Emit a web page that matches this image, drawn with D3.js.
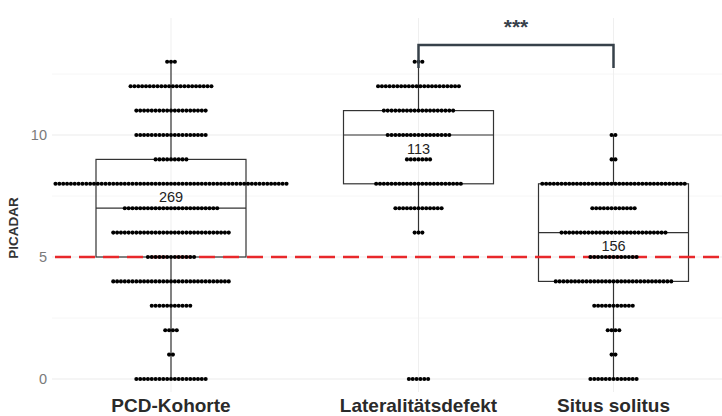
<!DOCTYPE html>
<html><head><meta charset="utf-8">
<script src="https://cdn.jsdelivr.net/npm/d3@7"></script>
<style>body{margin:0;background:#fff}svg{display:block}</style>
</head><body>
<svg id="c" width="722" height="416"></svg>
<script>
const categories = ["PCD-Kohorte", "Lateralitätsdefekt", "Situs solitus"];
const scoreValues = [0,1,2,3,4,5,6,7,8,9,10,11,12,13];
// number of patients per PICADAR score, per group
const countsPCD   = [19,2,4,11,31,13,31,25,61,9,19,19,22,3];
const countsLat   = [6,0,0,0,0,0,3,13,23,7,17,19,22,3];
const countsSitus = [13,2,4,11,31,13,28,12,38,2,2,0,0,0];
const groupN = [269, 113, 156];
const countLabelY = [7.45, 9.45, 5.45];
const yTicks = [0, 5, 10];
const cutoff = 5;
const signifLabel = "***";

const FONT = "Liberation Sans, Arial, sans-serif";
const svg = d3.select("#c");
const y = d3.scaleLinear().domain([0, 10]).range([379, 135]);
const xLeft = d3.scaleBand().domain([categories[0]]).range([42, 300]);
const xRight = d3.scaleBand().domain(categories.slice(1)).range([321, 711]);
const cx = c => c === categories[0] ? xLeft(c) + xLeft.bandwidth()/2 : xRight(c) + xRight.bandwidth()/2;

const allCounts = [countsPCD, countsLat, countsSitus];

// gridlines
const g = svg.append("g");
const gridVals = d3.range(0, 13.5, 2.5);
g.selectAll("line.h").data(gridVals).join("line")
  .attr("x1", 52).attr("x2", 722)
  .attr("y1", d => y(d)).attr("y2", d => y(d))
  .attr("stroke", d => d % 5 === 0 ? "#ebebeb" : "#f4f4f4").attr("stroke-width", d => d % 5 === 0 ? 1 : 0.8);
g.selectAll("line.v").data(categories).join("line")
  .attr("x1", d => cx(d)).attr("x2", d => cx(d))
  .attr("y1", 18).attr("y2", 392)
  .attr("stroke", "#efefef").attr("stroke-width", 1);

// y axis
svg.append("g").selectAll("text").data(yTicks).join("text")
  .attr("x", 47).attr("y", d => y(d)).attr("dy", "0.36em")
  .attr("text-anchor", "end").attr("font-family", FONT)
  .attr("font-size", 14.5).attr("fill", "#7a7a7a").text(d => d);
svg.append("text").attr("transform", "translate(18,228) rotate(-90)")
  .attr("text-anchor", "middle").attr("font-family", FONT)
  .attr("font-size", 13.5).attr("font-weight", "bold").attr("fill", "#333").text("PICADAR");

// x labels
svg.append("g").selectAll("text").data(categories).join("text")
  .attr("x", d => cx(d)).attr("y", 412).attr("text-anchor", "middle")
  .attr("font-family", FONT).attr("font-size", 19)
  .attr("font-weight", "bold").attr("fill", "#2a2a2a").text(d => d);

// box stats
function quant(counts, p) {
  const vals = [];
  counts.forEach((n, i) => { for (let k = 0; k < n; k++) vals.push(scoreValues[i]); });
  return d3.quantile(vals, p);
}
const boxW = 150;
const boxes = svg.append("g");
allCounts.forEach((counts, gi) => {
  const c = cx(categories[gi]);
  const q1 = quant(counts, 0.25), med = quant(counts, 0.5), q3 = quant(counts, 0.75);
  const iqr = q3 - q1;
  const vals = scoreValues.filter((v, i) => counts[i] > 0);
  const lo = d3.min(vals.filter(v => v >= q1 - 1.5*iqr));
  const hi = d3.max(vals.filter(v => v <= q3 + 1.5*iqr));
  boxes.append("line").attr("x1", c).attr("x2", c).attr("y1", y(q3)).attr("y2", y(hi)).attr("stroke", "#333").attr("stroke-width", 1.2);
  boxes.append("line").attr("x1", c).attr("x2", c).attr("y1", y(q1)).attr("y2", y(lo)).attr("stroke", "#333").attr("stroke-width", 1.2);
  boxes.append("rect").attr("x", c - boxW/2).attr("width", boxW).attr("y", y(q3)).attr("height", y(q1) - y(q3))
    .attr("fill", "none").attr("stroke", "#333").attr("stroke-width", 1.2);
  boxes.append("line").attr("x1", c - boxW/2).attr("x2", c + boxW/2).attr("y1", y(med)).attr("y2", y(med)).attr("stroke", "#333").attr("stroke-width", 1.2);
  boxes.append("text").attr("x", c).attr("y", y(countLabelY[gi])).attr("dy", "0.36em").attr("text-anchor", "middle")
    .attr("font-family", FONT).attr("font-size", 14.5).attr("fill", "#222").text(groupN[gi]);
});

// cutoff line
svg.append("line").attr("x1", 55).attr("x2", 722).attr("y1", y(cutoff)).attr("y2", y(cutoff))
  .attr("stroke", "#e8282b").attr("stroke-width", 2.5).attr("stroke-dasharray", "16,8");

// dots
const step = 3.85;
const dots = [];
allCounts.forEach((counts, gi) => {
  const c = cx(categories[gi]);
  counts.forEach((n, i) => {
    for (let k = 0; k < n; k++) dots.push({x: c + (k - (n-1)/2) * step, v: scoreValues[i]});
  });
});
svg.append("g").selectAll("circle").data(dots).join("circle")
  .attr("cx", d => d.x).attr("cy", d => y(d.v)).attr("r", 2.05).attr("fill", "#000");

// significance bracket
const x1 = cx(categories[1]), x2 = cx(categories[2]);
svg.append("path").attr("d", `M${x1},68V45H${x2}V68`).attr("fill", "none")
  .attr("stroke", "#37414a").attr("stroke-width", 2.5);
svg.append("text").attr("x", (x1+x2)/2).attr("y", 34).attr("text-anchor", "middle")
  .attr("font-family", FONT).attr("font-size", 21).attr("font-weight", "bold")
  .attr("fill", "#37414a").text(signifLabel);
</script>
</body></html>
